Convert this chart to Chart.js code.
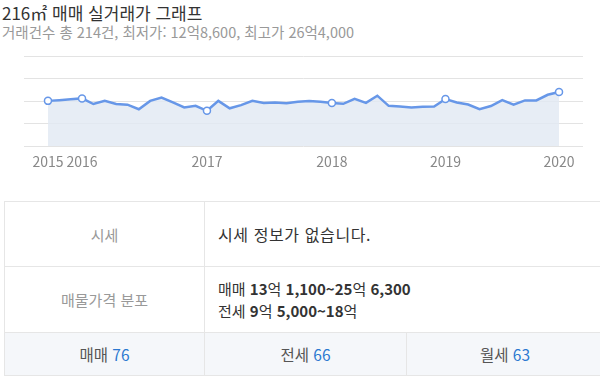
<!DOCTYPE html>
<html lang="ko">
<head>
<meta charset="utf-8">
<script src="https://cdn.jsdelivr.net/npm/chart.js@4"></script>
<style>
  body { margin: 0; width: 600px; height: 377px; overflow: hidden; background: #fff;
         font-family: "Noto Sans CJK KR", "Noto Sans", sans-serif; position: relative; }
  .title { position: absolute; left: 2px; top: 0px; font-size: 17px; color: #333; }
  .sub { position: absolute; left: 2px; top: 21px; font-size: 14.5px; color: #999; }
  #wrap { position: absolute; left: 0; top: 39px; width: 600px; height: 138px; }
  table { position: absolute; left: 4px; top: 201px; width: 600px; border-collapse: collapse; }
  td { border: 1px solid #e6e6e6; }
  td.lab { width: 197px; text-align: center; color: #999; font-size: 15px; }
  td.val { padding-left: 13px; color: #333; font-size: 15px; }
  td.val b { font-weight: bold; }
  .tabs td { background: #f5f7fa; text-align: center; font-size: 15.5px; color: #555; height: 40px; }
  .tabs span { color: #2b78d0; }
</style>
</head>
<body>
<div class="title">216㎡ 매매 실거래가 그래프</div>
<div class="sub">거래건수 총 214건, 최저가: 12억8,600, 최고가 26억4,000</div>
<div id="wrap"><canvas id="c"></canvas></div>
<table>
  <tr style="height:65px"><td class="lab">시세</td><td class="val" colspan="2" style="font-size:16px;letter-spacing:0.6px">시세 정보가 없습니다.</td></tr>
  <tr style="height:66px"><td class="lab">매물가격 분포</td>
    <td class="val" colspan="2" style="line-height:22px">매매 <b>13</b>억 <b>1,100~25</b>억 <b>6,300</b><br>전세 <b>9</b>억 <b>5,000~18</b>억</td></tr>
  <tr class="tabs"><td>매매 <span>76</span></td><td style="width:199px">전세 <span>66</span></td><td>월세 <span>63</span></td></tr>
</table>
<script>
// 평균 거래가 (억), 포인트 순서대로
const prices = [20.1, 20.4, 20.8, 21.2, 18.7, 20.1, 18.7, 18.4, 16.4, 20.1,
  21.6, 19.4, 17.2, 17.9, 15.7, 20.1, 16.8, 18.2, 20.1, 19.2,
  19.4, 19.0, 19.7, 20.0, 19.7, 19.2, 18.8, 21.0, 19.2, 22.4,
  17.9, 17.6, 17.2, 17.5, 17.6, 20.9, 19.4, 18.5, 16.4, 17.8,
  20.4, 18.4, 20.3, 20.3, 22.8, 24.0];
const years = ["2015", "2016", "2017", "2018", "2019", "2020"];
const yearIdx = [0, 3, 14, 25, 35, 45];
const yTicks = [0, 10, 20, 30, 40];

const blue = "#6797e8";

new Chart(document.getElementById("c"), {
  type: "line",
  data: {
    datasets: [{
      data: prices.map((v, i) => ({ x: i, y: v })),
      borderColor: blue,
      borderWidth: 2.5,
      backgroundColor: "rgba(225,233,243,0.8)",
      fill: "origin",
      tension: 0,
      pointRadius: (c) => (yearIdx.includes(c.dataIndex) ? 3.5 : 0),
      pointBackgroundColor: "#fff",
      pointBorderColor: blue,
      pointBorderWidth: 1.5,
    }],
  },
  options: {
    responsive: true,
    maintainAspectRatio: false,
    animation: false,
    layout: { padding: { left: 24, right: 17, top: 17, bottom: 8 } },
    plugins: { legend: { display: false }, tooltip: { enabled: false } },
    scales: {
      x: {
        type: "linear",
        min: -2.11,
        max: 47.11,
        afterBuildTicks: (s) => { s.ticks = yearIdx.map((v) => ({ value: v })); },
        ticks: {
          autoSkip: false,
          maxRotation: 0,
          padding: -1,
          color: "#888",
          font: { family: "Noto Sans CJK KR", size: 14 },
          callback: (v) => years[yearIdx.indexOf(v)] ?? "",
        },
        grid: { display: false },
        border: { display: false },
      },
      y: {
        min: 0,
        max: 40,
        afterBuildTicks: (s) => { s.ticks = yTicks.map((v) => ({ value: v })); },
        ticks: { display: false },
        grid: { color: "#e3e3e3", drawTicks: false },
        border: { display: false },
      },
    },
  },
});
</script>
</body>
</html>
